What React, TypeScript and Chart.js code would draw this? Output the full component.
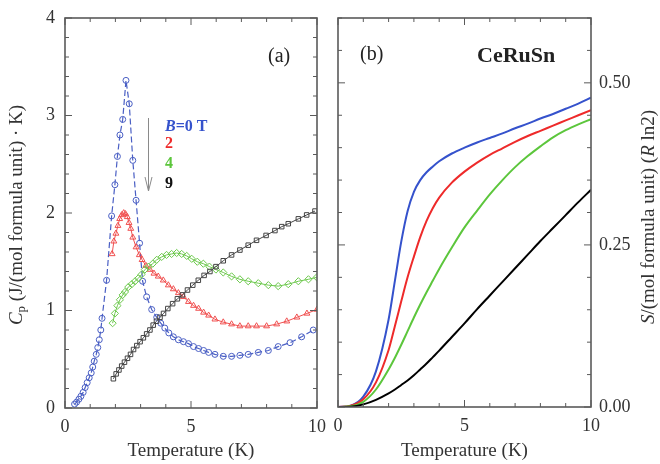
import React, { useEffect, useRef } from 'react';
import { Chart, registerables } from 'chart.js';

Chart.register(...registerables);

const SERIF = "'Liberation Serif', 'Times New Roman', serif";

// ---------- Panel (a): specific heat Cp (J/(mol f.u. K)) ----------
const b0T = [0.38, 0.46, 0.55, 0.63, 0.72, 0.80, 0.88, 0.96, 1.04, 1.10, 1.16, 1.24, 1.30, 1.36, 1.42, 1.47, 1.65, 1.85, 1.98, 2.08, 2.18, 2.29, 2.42, 2.55, 2.69, 2.82, 2.96, 3.08, 3.24, 3.44, 3.64, 3.80, 3.96, 4.12, 4.30, 4.50, 4.70, 4.90, 5.10, 5.30, 5.50, 5.70, 5.95, 6.28, 6.61, 6.94, 7.27, 7.67, 8.07, 8.46, 8.93, 9.39, 9.85];
const b0Cp = [0.04, 0.06, 0.09, 0.12, 0.16, 0.21, 0.26, 0.31, 0.36, 0.42, 0.48, 0.55, 0.62, 0.70, 0.80, 0.92, 1.31, 1.97, 2.29, 2.58, 2.80, 2.96, 3.36, 3.12, 2.54, 2.13, 1.69, 1.30, 1.14, 1.01, 0.93, 0.87, 0.82, 0.77, 0.73, 0.70, 0.68, 0.66, 0.63, 0.61, 0.59, 0.57, 0.55, 0.53, 0.53, 0.54, 0.55, 0.57, 0.59, 0.63, 0.67, 0.73, 0.80];

const b2T = [1.87, 1.94, 2.02, 2.10, 2.17, 2.25, 2.33, 2.40, 2.47, 2.54, 2.61, 2.69, 2.82, 2.95, 3.06, 3.21, 3.37, 3.53, 3.70, 3.90, 4.10, 4.30, 4.50, 4.70, 4.90, 5.10, 5.30, 5.50, 5.70, 5.95, 6.28, 6.61, 6.94, 7.27, 7.60, 8.00, 8.40, 8.80, 9.20, 9.60, 10.0];
const b2Cp = [1.58, 1.71, 1.79, 1.87, 1.94, 1.98, 2.00, 1.99, 1.96, 1.90, 1.84, 1.75, 1.65, 1.57, 1.52, 1.46, 1.42, 1.38, 1.35, 1.31, 1.26, 1.22, 1.18, 1.14, 1.09, 1.05, 1.02, 0.98, 0.95, 0.91, 0.88, 0.86, 0.84, 0.84, 0.84, 0.84, 0.86, 0.89, 0.93, 0.97, 1.01];

const b4T = [1.89, 1.98, 2.08, 2.18, 2.29, 2.38, 2.51, 2.65, 2.78, 2.91, 3.04, 3.17, 3.31, 3.48, 3.64, 3.84, 4.03, 4.23, 4.43, 4.63, 4.83, 5.03, 5.25, 5.49, 5.73, 5.99, 6.28, 6.61, 6.94, 7.27, 7.67, 8.07, 8.46, 8.86, 9.26, 9.66, 9.99];
const b4Cp = [0.87, 0.97, 1.05, 1.11, 1.16, 1.19, 1.24, 1.27, 1.30, 1.33, 1.37, 1.42, 1.45, 1.48, 1.52, 1.55, 1.57, 1.58, 1.59, 1.58, 1.56, 1.53, 1.50, 1.48, 1.45, 1.42, 1.39, 1.35, 1.32, 1.30, 1.28, 1.26, 1.25, 1.27, 1.30, 1.32, 1.34];

const b9T = [1.92, 2.03, 2.14, 2.25, 2.36, 2.48, 2.60, 2.72, 2.85, 2.98, 3.11, 3.24, 3.37, 3.50, 3.63, 3.77, 3.91, 4.08, 4.27, 4.46, 4.66, 4.86, 5.07, 5.29, 5.52, 5.75, 5.99, 6.28, 6.61, 6.94, 7.27, 7.60, 7.98, 8.33, 8.60, 8.86, 9.26, 9.59, 9.92];
const b9Cp = [0.30, 0.35, 0.39, 0.43, 0.47, 0.51, 0.55, 0.60, 0.64, 0.68, 0.72, 0.76, 0.80, 0.85, 0.89, 0.93, 0.97, 1.02, 1.07, 1.12, 1.16, 1.21, 1.26, 1.31, 1.36, 1.40, 1.45, 1.51, 1.57, 1.62, 1.67, 1.72, 1.77, 1.82, 1.86, 1.89, 1.94, 1.98, 2.02];

// ---------- Panel (b): entropy S (R ln2) ----------
const sT = [0, 0.5, 1.0, 1.5, 2.0, 2.25, 2.5, 2.75, 3.0, 3.25, 3.5, 3.75, 4.0, 4.5, 5.0, 5.5, 6.0, 6.5, 7.0, 7.5, 8.0, 8.5, 9.0, 9.5, 10.0];
const sB0 = [0, 0.002, 0.016, 0.055, 0.135, 0.195, 0.255, 0.302, 0.332, 0.35, 0.362, 0.371, 0.379, 0.391, 0.40, 0.408, 0.415, 0.422, 0.43, 0.437, 0.445, 0.452, 0.46, 0.468, 0.477];
const sB2 = [0, 0.002, 0.012, 0.038, 0.088, 0.125, 0.163, 0.20, 0.232, 0.262, 0.287, 0.307, 0.323, 0.346, 0.363, 0.377, 0.389, 0.399, 0.409, 0.418, 0.426, 0.434, 0.442, 0.45, 0.458];
const sB4 = [0, 0.001, 0.008, 0.027, 0.058, 0.076, 0.096, 0.117, 0.138, 0.158, 0.177, 0.195, 0.213, 0.246, 0.277, 0.303, 0.328, 0.350, 0.370, 0.387, 0.402, 0.416, 0.427, 0.436, 0.444];
const sB9 = [0, 0.0005, 0.004, 0.011, 0.021, 0.027, 0.034, 0.041, 0.049, 0.058, 0.067, 0.077, 0.087, 0.108, 0.129, 0.151, 0.172, 0.193, 0.214, 0.235, 0.256, 0.276, 0.296, 0.316, 0.335];

const xTicksMajor = [0, 5, 10];
const legendLabels = ['=0 T', '2', '4', '9'];

const BLUE = '#4a5fc4';
const RED = '#f05050';
const GREEN = '#6cc84c';
const DARK = '#444444';
const LBLUE = '#3552cc';
const LRED = '#ee2a2a';
const LGREEN = '#5cc63c';

const pts = (xs: number[], ys: number[]) => xs.map((x, i) => ({ x, y: ys[i] }));

const noPad = (s: any) => { s.paddingLeft = 0; s.paddingRight = 0; s.paddingTop = 0; s.paddingBottom = 0; };

function frameTicksPlugin(yId: string, yMinor: number, yMajor: number, xMinor: number, xMajor: number) {
  return {
    id: 'frameTicks',
    afterDatasetsDraw(chart: any) {
      const { ctx, chartArea: a } = chart;
      const xs = chart.scales.x;
      const ys = chart.scales[yId];
      ctx.save();
      ctx.strokeStyle = '#5a5a5a';
      ctx.lineWidth = 1;
      const line = (x1: number, y1: number, x2: number, y2: number) => {
        ctx.beginPath();
        ctx.moveTo(x1, y1);
        ctx.lineTo(x2, y2);
        ctx.stroke();
      };
      const isMajor = (v: number, m: number) => Math.abs(v / m - Math.round(v / m)) < 1e-6;
      const nx = Math.round((xs.max - xs.min) / xMinor);
      for (let i = 0; i <= nx; i++) {
        const v = xs.min + i * xMinor;
        const p = xs.getPixelForValue(v);
        const L = isMajor(v, xMajor) ? 7 : 4;
        line(p, a.bottom, p, a.bottom - L);
        line(p, a.top, p, a.top + L);
      }
      const ny = Math.round((ys.max - ys.min) / yMinor);
      for (let i = 0; i <= ny; i++) {
        const v = ys.min + i * yMinor;
        const p = ys.getPixelForValue(v);
        const L = isMajor(v, yMajor) ? 7 : 4;
        line(a.left, p, a.left + L, p);
        line(a.right, p, a.right - L, p);
      }
      ctx.lineWidth = 1.6;
      ctx.strokeRect(a.left, a.top, a.right - a.left, a.bottom - a.top);
      ctx.restore();
    },
  };
}

function drawRich(ctx: CanvasRenderingContext2D, parts: { t: string; f: string; dy?: number }[], x: number, y: number, rot: number, color: string) {
  ctx.save();
  ctx.translate(x, y);
  ctx.rotate(rot);
  ctx.fillStyle = color;
  ctx.textBaseline = 'middle';
  let total = 0;
  for (const p of parts) {
    ctx.font = p.f;
    total += ctx.measureText(p.t).width;
  }
  let cx = -total / 2;
  for (const p of parts) {
    ctx.font = p.f;
    ctx.fillText(p.t, cx, p.dy || 0);
    cx += ctx.measureText(p.t).width;
  }
  ctx.restore();
}

const annotA = {
  id: 'annotA',
  afterDraw(chart: any) {
    const ctx: CanvasRenderingContext2D = chart.ctx;
    drawRich(ctx, [
      { t: 'C', f: `italic 19px ${SERIF}` },
      { t: 'p', f: `13px ${SERIF}`, dy: 5 },
      { t: ' (J/(mol formula unit) \u00b7 K)', f: `19px ${SERIF}` },
    ], 17, 215, -Math.PI / 2, '#333333');
    ctx.save();
    ctx.fillStyle = '#222';
    ctx.textBaseline = 'alphabetic';
    ctx.font = `20px ${SERIF}`;
    ctx.fillText('(a)', 268, 62);
    ctx.font = `bold italic 16px ${SERIF}`;
    ctx.fillStyle = LBLUE;
    ctx.fillText('B', 165, 131);
    const bw = ctx.measureText('B').width;
    ctx.font = `bold 16px ${SERIF}`;
    ctx.fillText(legendLabels[0], 165 + bw, 131);
    ctx.fillStyle = LRED;
    ctx.fillText(legendLabels[1], 165, 148);
    ctx.fillStyle = LGREEN;
    ctx.fillText(legendLabels[2], 165, 168);
    ctx.fillStyle = '#111';
    ctx.fillText(legendLabels[3], 165, 188);
    ctx.strokeStyle = '#8a8a8a';
    ctx.lineWidth = 1;
    ctx.beginPath();
    ctx.moveTo(148.5, 118);
    ctx.lineTo(148.5, 191);
    ctx.moveTo(145, 177);
    ctx.lineTo(148.5, 191);
    ctx.lineTo(152, 177);
    ctx.stroke();
    ctx.restore();
  },
};

const annotB = {
  id: 'annotB',
  afterDraw(chart: any) {
    const ctx: CanvasRenderingContext2D = chart.ctx;
    drawRich(ctx, [
      { t: 'S', f: `italic 19px ${SERIF}` },
      { t: '/(mol formula unit) (', f: `19px ${SERIF}` },
      { t: 'R', f: `italic 19px ${SERIF}` },
      { t: ' ln2)', f: `19px ${SERIF}` },
    ], 319, 217, -Math.PI / 2, '#333333');
    ctx.save();
    ctx.fillStyle = '#222';
    ctx.textBaseline = 'alphabetic';
    ctx.font = `20px ${SERIF}`;
    ctx.fillText('(b)', 30, 60);
    ctx.font = `bold 22px ${SERIF}`;
    ctx.fillText('CeRuSn', 147, 62);
    ctx.restore();
  },
};

const tickFont = { family: SERIF, size: 18 };
const titleFont = { family: SERIF, size: 19 };

function makeA(canvas: HTMLCanvasElement) {
  return new Chart(canvas, {
    type: 'line',
    data: {
      datasets: [
        { data: pts(b9T, b9Cp), borderColor: DARK, backgroundColor: 'transparent', borderWidth: 1, pointStyle: 'rect', pointRadius: 3.2, pointBorderColor: DARK, pointBackgroundColor: 'rgba(255,255,255,0)', pointBorderWidth: 1 },
        { data: pts(b4T, b4Cp), borderColor: GREEN, backgroundColor: 'transparent', borderWidth: 1, pointStyle: 'rectRot', pointRadius: 3.6, pointBorderColor: GREEN, pointBackgroundColor: 'rgba(255,255,255,0)', pointBorderWidth: 1 },
        { data: pts(b2T, b2Cp), borderColor: RED, backgroundColor: 'transparent', borderWidth: 1, pointStyle: 'triangle', pointRadius: 3.4, pointBorderColor: RED, pointBackgroundColor: 'rgba(255,255,255,0)', pointBorderWidth: 1 },
        { data: pts(b0T, b0Cp), borderColor: BLUE, backgroundColor: 'transparent', borderWidth: 1.2, borderDash: [6, 3], pointStyle: 'circle', pointRadius: 3, pointBorderColor: BLUE, pointBackgroundColor: 'rgba(255,255,255,0)', pointBorderWidth: 1 },
      ],
    },
    options: {
      animation: false,
      responsive: false,
      layout: { padding: { left: 0, right: 13, top: 18, bottom: 0 } },
      plugins: { legend: { display: false }, tooltip: { enabled: false } },
      scales: {
        x: {
          type: 'linear', min: 0, max: 10,
          afterFit: (s: any) => { s.height = 56; noPad(s); },
          afterBuildTicks: (s: any) => { s.ticks = xTicksMajor.map((v) => ({ value: v })); },
          grid: { display: false, drawTicks: false },
          border: { display: false },
          ticks: { font: tickFont, color: '#333', padding: 8, maxRotation: 0 },
          title: { display: true, text: 'Temperature (K)', font: titleFont, color: '#333', padding: { top: 0, bottom: 2 } },
        },
        y: {
          type: 'linear', min: 0, max: 4,
          afterFit: (s: any) => { s.width = 65; noPad(s); },
          grid: { display: false, drawTicks: false },
          border: { display: false },
          ticks: { stepSize: 1, font: tickFont, color: '#333', padding: 10 },
        },
      },
    },
    plugins: [frameTicksPlugin('y', 0.2, 1, 1, 5), annotA],
  } as any);
}

function makeB(canvas: HTMLCanvasElement) {
  const ds = (ys: number[], c: string) => ({ data: pts(sT, ys), borderColor: c, backgroundColor: 'transparent', borderWidth: 2, pointRadius: 0, cubicInterpolationMode: 'monotone', yAxisID: 'y' });
  return new Chart(canvas, {
    type: 'line',
    data: { datasets: [ds(sB9, '#000000'), ds(sB4, LGREEN), ds(sB2, LRED), ds(sB0, LBLUE)] },
    options: {
      animation: false,
      responsive: false,
      layout: { padding: { left: 8, right: 0, top: 18, bottom: 0 } },
      plugins: { legend: { display: false }, tooltip: { enabled: false } },
      scales: {
        x: {
          type: 'linear', min: 0, max: 10,
          afterFit: (s: any) => { s.height = 57; noPad(s); },
          afterBuildTicks: (s: any) => { s.ticks = xTicksMajor.map((v) => ({ value: v })); },
          grid: { display: false, drawTicks: false },
          border: { display: false },
          ticks: { font: tickFont, color: '#333', padding: 8, maxRotation: 0 },
          title: { display: true, text: 'Temperature (K)', font: titleFont, color: '#333', padding: { top: 0, bottom: 2 } },
        },
        y: {
          type: 'linear', position: 'right', min: 0, max: 0.6,
          afterFit: (s: any) => { s.width = 69; noPad(s); },
          grid: { display: false, drawTicks: false },
          border: { display: false },
          ticks: { stepSize: 0.25, includeBounds: false, font: tickFont, color: '#333', padding: 8, callback: (v: any) => Number(v).toFixed(2) },
        },
      },
    },
    plugins: [frameTicksPlugin('y', 0.05, 0.25, 1, 5), annotB],
  } as any);
}

export default function App() {
  const refA = useRef<HTMLCanvasElement>(null);
  const refB = useRef<HTMLCanvasElement>(null);
  useEffect(() => {
    const a = makeA(refA.current!);
    const b = makeB(refB.current!);
    return () => { a.destroy(); b.destroy(); };
  }, []);
  return (
    <div style={{ position: 'absolute', left: 0, top: 0, width: 660, height: 464, background: '#fff' }}>
      <canvas ref={refA} width={330} height={464} style={{ position: 'absolute', left: 0, top: 0, width: 330, height: 464 }} />
      <canvas ref={refB} width={330} height={464} style={{ position: 'absolute', left: 330, top: 0, width: 330, height: 464 }} />
    </div>
  );
}
